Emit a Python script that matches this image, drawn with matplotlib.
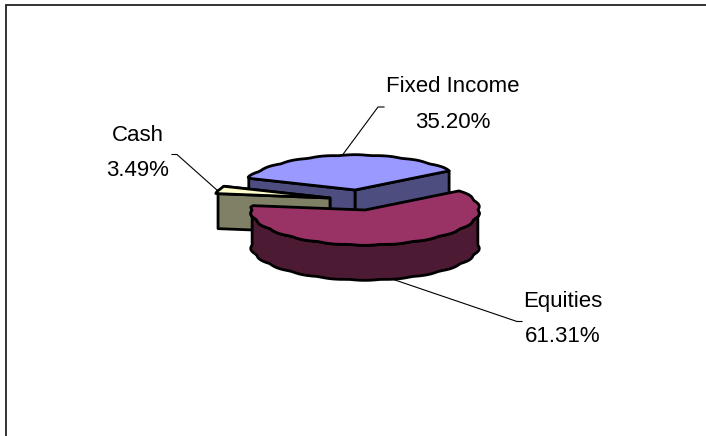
import numpy as np
import matplotlib.pyplot as plt

plt.rcParams['font.family'] = ['Liberation Sans', 'DejaVu Sans']

# Pie data
labels = ['Fixed Income', 'Cash', 'Equities']
shares = [35.20, 3.49, 61.31]
share_text = ['35.20%', '3.49%', '61.31%']

# Colours: top surface, side surface
top_colors = ['#9999ff', '#ffffcc', '#993366']
side_colors = ['#4d4d80', '#808066', '#4d1a33']

# Slices are pulled apart, so each has its own apex (pixels)
centers = [(355, 190), (330, 198), (365, 210)]
label_pos = [(453, 87), (138, 135), (563, 301)]

RX = 114
RY = 35
DEPTH = 35
START = 33.5

fig = plt.figure(figsize=(7.06, 4.36), dpi=100)
ax = fig.add_axes([0, 0, 1, 1])
ax.set_xlim(0, 706)
ax.set_ylim(436, 0)
ax.axis('off')


def rim(cx, cy, a0, a1, drop=0):
    # points on the outer edge, with the small scallops of the low-res original
    t = np.radians(np.arange(a0, a1, 2.5))
    t = np.append(t, np.radians(a1))
    bump = 0.99 + 0.02 * np.abs(np.sin(t * 11))
    # keep the slice corners on the plain ellipse
    bump[0] = bump[-1] = 0.99
    x = cx + RX * bump * np.cos(t)
    y = cy - RY * bump * np.sin(t) + drop
    return np.column_stack([x, y])


def poly(pts, color, z):
    ax.fill(pts[:, 0], pts[:, 1], facecolor=color, edgecolor='black', lw=2.0,
            joinstyle='round', zorder=z)


# slice angles, going counter clockwise from the right side
edges = START + np.cumsum([0] + shares) * 3.6

for i in range(3):
    a0, a1 = edges[i], edges[i + 1]
    cx, cy = centers[i]
    z = 2 + i * 2
    apex = np.array([[cx, cy]])
    low = np.array([[cx, cy + DEPTH]])

    # cut faces
    for a in (a0, a1):
        end = rim(cx, cy, a, a + 0.01)[:1]
        face = np.vstack([apex, end, end + [0, DEPTH], low])
        # equities cut faces turn away from the viewer
        if labels[i] != 'Equities':
            poly(face, side_colors[i], z)

    # outer wall of the part facing the viewer
    w0, w1 = max(a0, 180), min(a1, 360)
    if w1 > w0:
        wall = np.vstack([rim(cx, cy, w0, w1), rim(cx, cy, w0, w1, DEPTH)[::-1]])
        poly(wall, side_colors[i], z)

    poly(np.vstack([apex, rim(cx, cy, a0, a1)]), top_colors[i], z + 1)

# frame, only top and left are inside the picture
ax.plot([5.5, 5.5, 706], [436, 5.5, 5.5], color='#222222', lw=1.3, zorder=1,
        solid_joinstyle='miter')

# leader lines
leader_x = [[341, 378, 384], [218, 177, 172], [392, 517, 522]]
leader_y = [[157, 107, 107], [191, 154.5, 154.5], [279, 321.5, 321.5]]
for xs, ys in zip(leader_x, leader_y):
    ax.plot(xs, ys, color='black', lw=0.8, zorder=1)

for i in range(3):
    x, y = label_pos[i]
    ax.text(x, y, labels[i], ha='center', va='center', fontsize=16, color='black')
    ax.text(x, y + 35, share_text[i], ha='center', va='center', fontsize=16, color='black')

fig.savefig('out.png', dpi=100, facecolor='white')
